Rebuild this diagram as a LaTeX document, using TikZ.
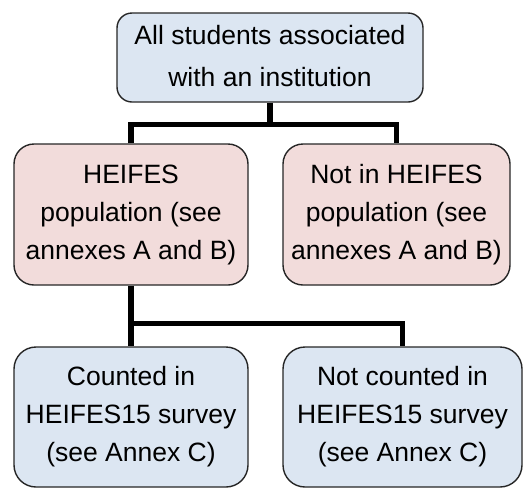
\documentclass[tikz,border=0pt]{standalone}
\usepackage{fontspec}
\setmainfont{Liberation Sans}
\usetikzlibrary{calc}
\definecolor{boxblue}{HTML}{DCE6F2}
\definecolor{boxpink}{HTML}{F2DCDB}
\begin{document}
\begin{tikzpicture}[x=1pt,y=-1pt,
  box/.style={draw=black!85, line width=1.4pt, align=center, inner sep=0pt,
    font=\fontsize{26.5}{38}\selectfont},
  bluebox/.style={box, fill=boxblue},
  pinkbox/.style={box, fill=boxpink},
  conn/.style={line width=5.5pt, line join=miter, draw=black}]
\useasboundingbox (0,0) rectangle (530,488);
% top level
\node[bluebox, rounded corners=15pt, minimum width=306pt, minimum height=89pt]
  (all) at (270,57.5) {\raisebox{-8pt}{\begin{tabular}{@{}c@{}}All students associated\\[4pt]with an institution\end{tabular}}};
% second level
\node[pinkbox, rounded corners=20pt, minimum width=234pt, minimum height=141pt]
  (pop) at (131,214.5) {HEIFES\\population (see\\annexes A and B)};
\node[pinkbox, rounded corners=20pt, minimum width=227pt, minimum height=141pt]
  (notpop) at (396.5,214.5) {Not in HEIFES\\population (see\\annexes A and B)};
% third level
\node[bluebox, rounded corners=22pt, minimum width=234pt, minimum height=140pt]
  (counted) at (131,417) {Counted in\\HEIFES15 survey\\(see Annex C)};
\node[bluebox, rounded corners=22pt, minimum width=239pt, minimum height=140pt]
  (notcounted) at (402.5,417) {Not counted in\\HEIFES15 survey\\(see Annex C)};
% connectors
\coordinate (j1) at ($(all.south)+(0,22)$);
\draw[conn] (pop.north) |- (j1) -| (notpop.north);
\draw[conn] (all.south) -- (j1);
\coordinate (j2) at ($(pop.south)+(0,38)$);
\draw[conn] (pop.south) -- (counted.north);
\draw[conn] (j2) -| (notcounted.north);
\end{tikzpicture}
\end{document}
